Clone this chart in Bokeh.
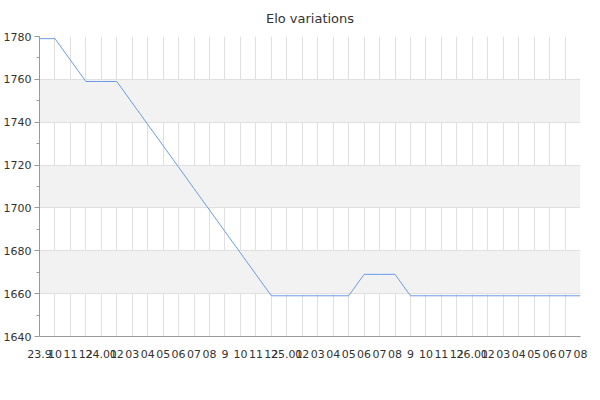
from bokeh.embed import file_html
from bokeh.models import FixedTicker, Range1d
from bokeh.plotting import figure
from bokeh.resources import INLINE

# month ticks, Sep 2023 .. Aug 2026
tick_labels = [
    "23.9", "10", "11", "12",
    "24.01", "02", "03", "04", "05", "06", "07", "08", "9", "10", "11", "12",
    "25.01", "02", "03", "04", "05", "06", "07", "08", "9", "10", "11", "12",
    "26.01", "02", "03", "04", "05", "06", "07", "08",
]

# Elo rating at each month tick
elo = [
    1779, 1779, 1769, 1759,
    1759, 1759, 1749, 1739, 1729, 1719, 1709, 1699, 1689, 1679, 1669, 1659,
    1659, 1659, 1659, 1659, 1659, 1669, 1669, 1669, 1659, 1659, 1659, 1659,
    1659, 1659, 1659, 1659, 1659, 1659, 1659, 1659,
]

y_ticks = [1640, 1660, 1680, 1700, 1720, 1740, 1760, 1780]
y_minor = [1650, 1670, 1690, 1710, 1730, 1750, 1770]

month_idx = list(range(len(tick_labels)))

FONT = "DejaVu Sans"

p = figure(
    frame_width=541,
    frame_height=300,
    min_border_left=36,
    min_border_right=8,
    min_border_top=36,
    min_border_bottom=40,
    x_range=Range1d(month_idx[0], month_idx[-1]),
    y_range=Range1d(y_ticks[0], y_ticks[-1]),
    title="Elo variations",
    toolbar_location=None,
    tools="",
    output_backend="svg",
)

p.line(month_idx, elo, line_color="#6b9be8", line_width=1)

# title
p.title.align = "center"
p.title.vertical_align = "top"
p.title.standoff = 18
p.title.text_font = FONT
p.title.text_font_size = "13px"
p.title.text_font_style = "normal"
p.title.text_color = "#333333"

p.outline_line_color = None

# x axis: one tick per month, all labels shown
p.xaxis.ticker = FixedTicker(ticks=month_idx)
p.xaxis.major_label_overrides = {i: lbl for i, lbl in enumerate(tick_labels)}
p.xaxis.major_tick_line_color = None
p.xaxis.minor_tick_line_color = None
p.xaxis.axis_line_color = "#999999"
p.xaxis.major_label_standoff = 7
p.xgrid.ticker = FixedTicker(ticks=month_idx)

# y axis
p.yaxis.ticker = FixedTicker(ticks=y_ticks, minor_ticks=y_minor)
p.yaxis.axis_line_color = "#999999"
p.yaxis.major_tick_line_color = "#999999"
p.yaxis.minor_tick_line_color = "#999999"
p.yaxis.major_tick_out = 5
p.yaxis.major_tick_in = 0
p.yaxis.minor_tick_out = 3
p.yaxis.minor_tick_in = 0
p.yaxis.major_label_standoff = 3

for ax in (p.xaxis, p.yaxis):
    ax.major_label_text_font = FONT
    ax.major_label_text_font_size = "11px"
    ax.major_label_text_color = "#333333"

# grid and alternating bands
p.grid.grid_line_color = "#e0e0e0"
p.grid.grid_line_alpha = 1
p.ygrid.band_fill_color = "#f2f2f2"
p.ygrid.band_fill_alpha = 1

open("out.html", "w").write(file_html(p, INLINE))
